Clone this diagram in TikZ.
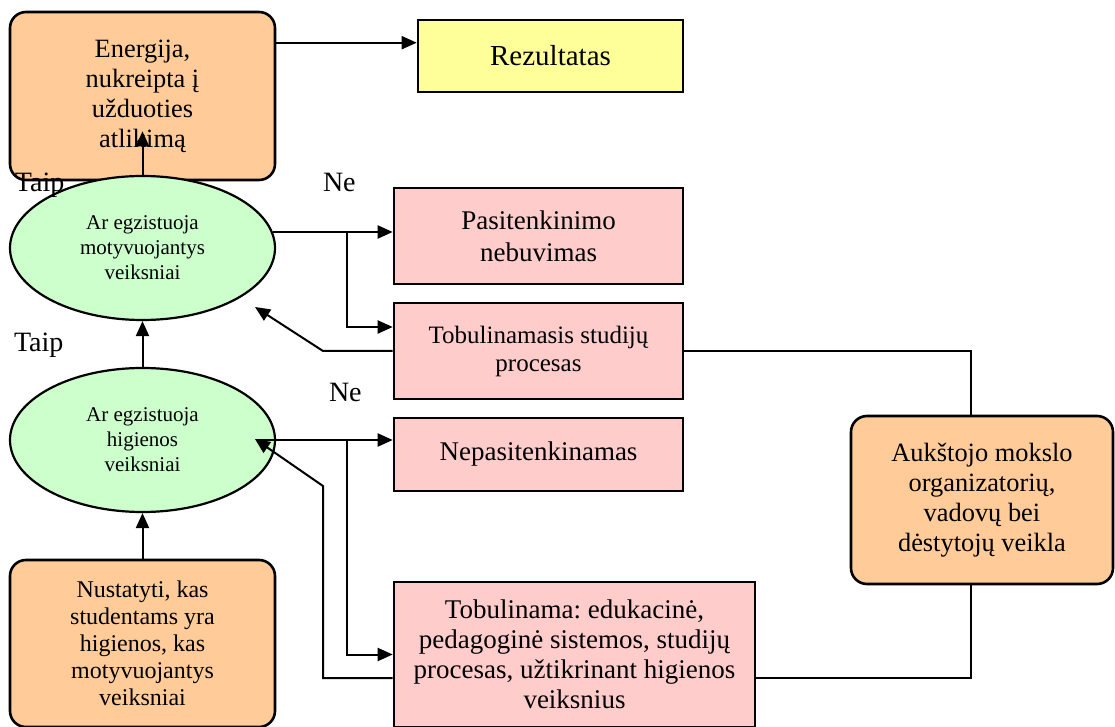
\documentclass[tikz,border=0pt]{standalone}
\usepackage{fontspec}
\setmainfont{Liberation Serif}
\usepackage{tikz}
\usetikzlibrary{positioning, arrows.meta, shapes.geometric}
\definecolor{oranzine}{HTML}{FFCC99}
\definecolor{rozine}{HTML}{FFCCCC}
\definecolor{zalia}{HTML}{CCFFCC}
\definecolor{geltona}{HTML}{FFFF99}
\frenchspacing

\begin{document}
\begin{tikzpicture}[x=0.5pt, y=-0.5pt, line width=1pt,
    blokas/.style={draw, line width=1.3pt, align=center, inner sep=2pt},
    oranzblokas/.style={blokas, rounded corners=8pt, fill=oranzine, font=\fontsize{13.2}{15}\selectfont},
    rozblokas/.style={blokas, fill=rozine, font=\fontsize{13.5}{16}\selectfont},
    klausimas/.style={draw, ellipse, line width=1.1pt, fill=zalia, align=center, inner sep=0pt,
        minimum width=132.5pt, minimum height=72pt, font=\fontsize{10.5}{12.5}\selectfont},
    zyme/.style={anchor=base west, inner sep=0pt, font=\fontsize{14}{16}\selectfont},
    rodykle/.style={-{Triangle[length=7.5pt,width=6.5pt]}}]
  \useasboundingbox (0,0) rectangle (1115,727);

  % kairysis stulpelis
  \node[oranzblokas, minimum width=132.5pt, minimum height=84pt] (energija) at (142.5,96) {Energija,\\ nukreipta į\\ užduoties\\ atlikimą};
  \node[blokas, fill=geltona, minimum width=132.5pt, minimum height=36pt, font=\fontsize{14.5}{17}\selectfont] (rezultatas) at (550.5,56) {Rezultatas};
  \node[klausimas] (motyv) at (142.5,248) {Ar egzistuoja\\ motyvuojantys\\ veiksniai};
  \node[klausimas] (higien) at (142.5,440) {Ar egzistuoja\\ higienos\\ veiksniai};
  \node[oranzblokas, minimum width=132.5pt, minimum height=83.5pt, font=\fontsize{12}{13.5}\selectfont] (nustatyti) at (142.5,643.5) {Nustatyti, kas\\ studentams yra\\ higienos, kas\\ motyvuojantys\\ veiksniai};

  % desinysis stulpelis
  \node[rozblokas, minimum width=144.5pt, minimum height=48pt] (pasitenk) at (538.5,236) {Pasitenkinimo\\ nebuvimas};
  \node[rozblokas, minimum width=144.5pt, minimum height=48pt, font=\fontsize{12.5}{14}\selectfont] (tobstud) at (538.5,351) {Tobulinamasis studijų\\ procesas};
  \node[rozblokas, minimum width=144.5pt, minimum height=36.5pt] (nepasit) at (538.5,454.5) {Nepasitenkinamas};
  \node[rozblokas, minimum width=180.5pt, minimum height=72.5pt, font=\fontsize{13.5}{15}\selectfont] (tobsist) at (574.5,654.5) {Tobulinama: edukacinė,\\ pedagoginė sistemos, studijų\\ procesas, užtikrinant higienos\\ veiksnius};
  \node[oranzblokas, minimum width=131pt, minimum height=84pt] (vadovai) at (982,500) {Aukštojo mokslo\\ organizatorių,\\ vadovų bei\\ dėstytojų veikla};

  % zymes
  \node[zyme] (taip1) at (14,192) {Taip};
  \node[zyme] (ne1) at (322,192) {Ne};
  \node[zyme] (taip2) at (13,352) {Taip};
  \node[zyme] (ne2) at (328,402) {Ne};

  % pagalbiniai taskai
  \coordinate (xa) at (347,0);
  \coordinate (xb) at (323,0);
  \coordinate (tikslas1) at (255,307);
  \coordinate (lenk2) at (323,486);
  \coordinate (tikslas2) at (255,439);

  % rodykles
  \draw[rodykle] ([yshift=-16pt]energija.north east) -- ([yshift=-16pt]energija.north east -| rezultatas.west);
  \draw[rodykle] (motyv.north) -- ([yshift=25pt]energija.south);
  \draw[rodykle] (higien.north) -- (motyv.south);
  \draw[rodykle] (nustatyti.north) -- (higien.south);

  \draw[rodykle] (motyv.7) -- (motyv.7 -| pasitenk.west);
  \draw[rodykle] (motyv.7 -| xa) |- ([yshift=12pt]tobstud.west);
  \draw[rodykle] (tobstud.west) -- (tobstud.west -| xb) -- (tikslas1);

  \draw[rodykle] ([xshift=-10pt]higien.east) -- (higien.east -| nepasit.west);
  \draw[rodykle] (higien.east -| xa) |- (tobsist.west);
  \draw[rodykle] ([yshift=-11.75pt]tobsist.west) -| (lenk2) -- (tikslas2);

  \draw (tobstud.east) -| ([xshift=-5.5pt]vadovai.north);
  \draw ([xshift=-5.5pt]vadovai.south) |- ([yshift=-11.75pt]tobsist.east);
\end{tikzpicture}
\end{document}
